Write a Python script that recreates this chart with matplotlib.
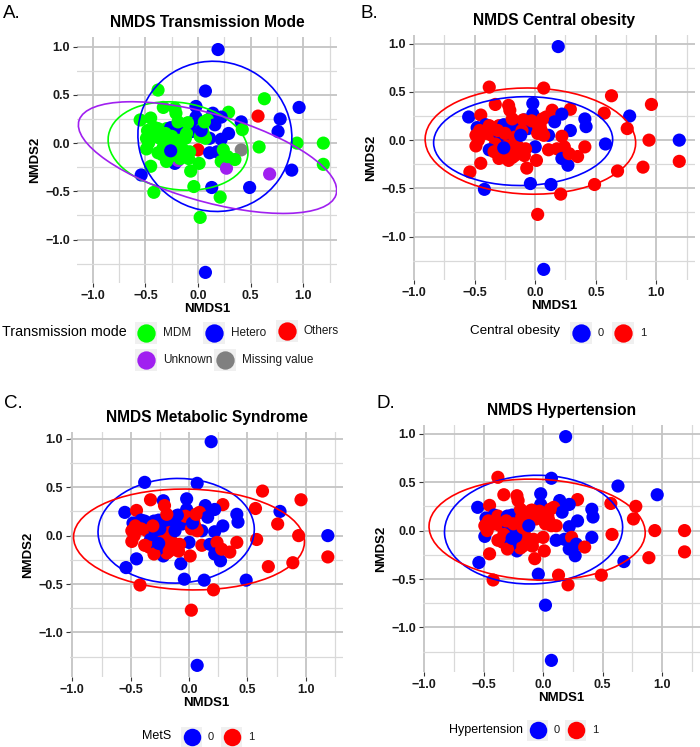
import matplotlib
matplotlib.use("Agg")
import matplotlib.pyplot as plt
from matplotlib.patches import Ellipse, Rectangle
from matplotlib.ticker import MultipleLocator

plt.rcParams['font.family'] = ['Liberation Sans', 'DejaVu Sans']

# NMDS scores of every sample (same ordination in all four panels)
nmds1 = [0.19, 0.07, 0.02, 0.21, -0.42, -0.54, 0.07, -0.38, 0.63, 0.96,
         0.78, 0.76, 0.57, 0.58, 0.94, 1.19, 1.19, 0.89, 0.68, 0.49,
         0.13, -0.04, 0.41, 0.41, 0.42, 0.29, 0.29, -0.55, -0.45, -0.33,
         -0.22, -0.21, -0.02, -0.02, 0.14, 0.22, 0.09, 0.16, -0.09, -0.06,
         0.22, 0.11, 0.02, 0.00, 0.11, 0.18, 0.24, 0.22, 0.27, 0.28,
         0.35, 0.07, -0.07, 0.01, -0.45, -0.22, -0.19, -0.48, -0.41, -0.49,
         -0.49, -0.38, -0.36, -0.30, -0.26, -0.18, -0.29, -0.24, -0.21, -0.33,
         -0.38, -0.14, -0.34, -0.27, -0.17, -0.09, -0.30, -0.08, -0.14, -0.23,
         -0.11, -0.17, -0.25, -0.41, 0.02, -0.03, 0.04, 0.05, 0.03, -0.46,
         -0.47, -0.10, -0.19, 0.06, -0.12, -0.26, -0.31]
nmds2 = [0.97, -1.34, -0.77, -0.56, -0.51, -0.33, 0.54, 0.55, 0.46, 0.37,
         0.25, 0.12, 0.28, -0.04, 0.00, 0.00, -0.22, -0.28, -0.32, -0.46,
         -0.46, -0.45, -0.07, 0.22, 0.14, 0.32, 0.10, 0.24, 0.26, 0.37,
         0.36, 0.31, 0.38, 0.27, 0.31, 0.27, 0.24, 0.19, 0.21, 0.12,
         0.04, 0.05, 0.17, -0.07, -0.10, -0.09, -0.07, -0.19, -0.26, -0.14,
         -0.17, 0.05, -0.29, -0.21, -0.24, -0.21, -0.18, 0.13, 0.16, 0.05,
         -0.06, 0.15, 0.05, 0.15, 0.16, 0.14, 0.05, 0.00, -0.02, -0.04,
         -0.10, -0.10, -0.12, -0.14, -0.16, -0.16, -0.19, -0.09, -0.07, -0.06,
         0.10, 0.03, 0.07, 0.07, 0.07, 0.20, 0.15, 0.10, 0.13, 0.10,
         0.00, 0.21, 0.22, 0.22, 0.05, -0.08, 0.10]

transmission = ['Hetero', 'Hetero', 'MDM', 'MDM', 'MDM', 'Hetero', 'Hetero', 'MDM', 'MDM', 'Hetero',
                'Hetero', 'Hetero', 'Others', 'MDM', 'MDM', 'MDM', 'MDM', 'Hetero', 'Unknown', 'Hetero',
                'Hetero', 'MDM', 'Missing value', 'Hetero', 'MDM', 'MDM', 'Hetero', 'MDM', 'MDM', 'MDM',
                'MDM', 'MDM', 'Hetero', 'Hetero', 'Hetero', 'Hetero', 'MDM', 'Hetero', 'MDM', 'Hetero',
                'Hetero', 'Hetero', 'Unknown', 'Others', 'Hetero', 'Hetero', 'MDM', 'MDM', 'Unknown', 'MDM',
                'MDM', 'MDM', 'MDM', 'MDM', 'MDM', 'Hetero', 'Unknown', 'MDM', 'MDM', 'MDM',
                'MDM', 'MDM', 'MDM', 'MDM', 'Hetero', 'Hetero', 'MDM', 'MDM', 'MDM', 'MDM',
                'MDM', 'MDM', 'MDM', 'MDM', 'MDM', 'MDM', 'MDM', 'MDM', 'MDM', 'MDM',
                'MDM', 'MDM', 'MDM', 'MDM', 'MDM', 'Hetero', 'MDM', 'MDM', 'Hetero', 'MDM',
                'MDM', 'MDM', 'MDM', 'MDM', 'MDM', 'Hetero', 'MDM']
central_obesity = [0, 0, 1, 1, 0, 1, 1, 1, 1, 1,
                   0, 1, 1, 0, 1, 0, 1, 1, 1, 1,
                   0, 0, 1, 0, 0, 1, 0, 0, 1, 1,
                   1, 1, 0, 0, 1, 0, 1, 0, 0, 0,
                   1, 0, 1, 0, 1, 1, 1, 0, 0, 1,
                   1, 1, 1, 1, 1, 1, 1, 0, 0, 1,
                   1, 1, 1, 1, 0, 0, 0, 0, 0, 1,
                   0, 0, 1, 1, 1, 1, 1, 1, 1, 1,
                   1, 1, 1, 1, 1, 1, 1, 1, 1, 1,
                   1, 1, 1, 1, 0, 0, 1]
mets = [0, 0, 1, 1, 1, 0, 0, 0, 1, 1,
        0, 1, 1, 1, 1, 0, 1, 1, 1, 0,
        0, 0, 1, 0, 0, 1, 0, 0, 1, 1,
        0, 1, 0, 0, 0, 0, 1, 0, 0, 0,
        0, 0, 1, 0, 1, 0, 1, 0, 0, 1,
        1, 1, 0, 1, 0, 0, 1, 0, 0, 1,
        1, 0, 1, 0, 0, 0, 0, 0, 0, 0,
        1, 0, 1, 0, 1, 1, 1, 1, 1, 1,
        0, 1, 0, 1, 1, 1, 1, 1, 0, 1,
        1, 0, 1, 1, 0, 0, 1]
hypertension = [0, 0, 0, 1, 1, 0, 0, 1, 0, 0,
                1, 1, 1, 1, 1, 1, 1, 1, 0, 1,
                1, 0, 0, 0, 0, 1, 0, 0, 1, 1,
                1, 1, 0, 0, 0, 0, 1, 0, 1, 1,
                0, 1, 1, 1, 0, 0, 1, 0, 0, 0,
                1, 1, 1, 1, 1, 0, 1, 0, 0, 1,
                0, 1, 1, 0, 0, 1, 0, 0, 0, 1,
                1, 0, 1, 0, 1, 1, 1, 1, 1, 0,
                1, 1, 1, 1, 1, 1, 1, 1, 1, 1,
                1, 1, 1, 1, 0, 0, 1]

# 95% ellipses per group: centre, semi-axes, rotation
ell_a_group = ['MDM', 'Hetero', 'Unknown']
ell_a_cx = [-0.19, 0.16, 0.09]
ell_a_cy = [-0.03, 0.07, -0.15]
ell_a_rx = [0.67, 0.73, 1.28]
ell_a_ry = [0.45, 0.78, 0.45]
ell_a_ang = [-10, 10, -17.7]

ell_b_cx = [-0.10, -0.04]
ell_b_cy = [-0.01, -0.01]
ell_b_rx = [0.74, 0.87]
ell_b_ry = [0.46, 0.55]
ell_b_ang = [2, -2]

ell_c_cx = [-0.11, 0.00]
ell_c_cy = [0.05, -0.04]
ell_c_rx = [0.67, 0.99]
ell_c_ry = [0.54, 0.52]
ell_c_ang = [3, -2]

ell_d_cx = [-0.08, -0.05]
ell_d_cy = [0.01, 0.01]
ell_d_rx = [0.75, 0.91]
ell_d_ry = [0.56, 0.52]
ell_d_ang = [4, -3]

trans_levels = ['MDM', 'Hetero', 'Others', 'Unknown', 'Missing value']
trans_colors = {'MDM': '#00FF00', 'Hetero': '#0000FF', 'Others': '#FF0000',
                'Unknown': '#A020F0', 'Missing value': '#808080'}
bin_colors = {0: '#0000FF', 1: '#FF0000'}
tick_vals = [-1.0, -0.5, 0.0, 0.5, 1.0]
tick_labels = ['\u22121.0', '\u22120.5', '0.0', '0.5', '1.0']

fig = plt.figure(figsize=(7, 7.47), dpi=100)
W, H = 700, 747


def make_ax(l, r, t, b, xlim, ylim):
    ax = fig.add_axes([l / W, 1 - b / H, (r - l) / W, (b - t) / H])
    ax.set_xlim(xlim)
    ax.set_ylim(ylim)
    for s in ax.spines.values():
        s.set_visible(False)
    ax.set_xticks(tick_vals)
    ax.set_xticklabels(tick_labels)
    ax.set_yticks(tick_vals)
    ax.set_yticklabels(tick_labels)
    ax.xaxis.set_minor_locator(MultipleLocator(0.25))
    ax.yaxis.set_minor_locator(MultipleLocator(0.25))
    ax.tick_params(which='major', length=3, width=0.8, color='#333333',
                   labelsize=9, pad=2, labelcolor='#1a1a1a')
    ax.tick_params(which='minor', length=0)
    for lab in ax.get_xticklabels() + ax.get_yticklabels():
        lab.set_fontweight('bold')
    ax.grid(which='major', color='#c4c4c4', lw=1.3)
    ax.grid(which='minor', color='#d9d9d9', lw=0.9)
    ax.set_axisbelow(True)
    ax.set_xlabel('NMDS1', fontsize=9.5, fontweight='bold', labelpad=1)
    ax.set_ylabel('NMDS2', fontsize=9.5, fontweight='bold', labelpad=3)
    return ax


def binary_panel(ax, groups, cx, cy, rx, ry, ang):
    cols = [bin_colors[g] for g in groups]
    ax.scatter(nmds1, nmds2, c=cols, s=90, linewidths=0, zorder=3)
    for i, g in enumerate([0, 1]):
        ax.add_patch(Ellipse((cx[i], cy[i]), 2 * rx[i], 2 * ry[i], angle=ang[i],
                             fill=False, ec=bin_colors[g], lw=1.2, zorder=4))


# A. transmission mode
axA = make_ax(77, 337, 37, 283, (-1.15, 1.32), (-1.45, 1.10))
axA.scatter(nmds1, nmds2, c=[trans_colors[t] for t in transmission], s=90,
            linewidths=0, zorder=3)
for i, g in enumerate(ell_a_group):
    axA.add_patch(Ellipse((ell_a_cx[i], ell_a_cy[i]), 2 * ell_a_rx[i], 2 * ell_a_ry[i],
                          angle=ell_a_ang[i], fill=False, ec=trans_colors[g], lw=1.2, zorder=4))
axA.set_title('NMDS Transmission Mode', fontsize=11.2, fontweight='bold', pad=7)

# B. central obesity
axB = make_ax(413, 695, 35, 280, (-1.01, 1.32), (-1.45, 1.09))
binary_panel(axB, central_obesity, ell_b_cx, ell_b_cy, ell_b_rx, ell_b_ry, ell_b_ang)
axB.set_title('NMDS Central obesity', fontsize=11.2, fontweight='bold', pad=7)

# C. metabolic syndrome
axC = make_ax(70, 343, 432, 677, (-1.02, 1.32), (-1.46, 1.07))
binary_panel(axC, mets, ell_c_cx, ell_c_cy, ell_c_rx, ell_c_ry, ell_c_ang)
axC.set_title('NMDS Metabolic Syndrome', fontsize=11.2, fontweight='bold', pad=7)

# D. hypertension
axD = make_ax(423, 700, 425, 672, (-1.01, 1.32), (-1.46, 1.09))
binary_panel(axD, hypertension, ell_d_cx, ell_d_cy, ell_d_rx, ell_d_ry, ell_d_ang)
axD.set_title('NMDS Hypertension', fontsize=11.2, fontweight='bold', pad=7)

# overlay in pixel coordinates for panel letters and legends
ov = fig.add_axes([0, 0, 1, 1], zorder=10)
ov.set_xlim(0, W)
ov.set_ylim(H, 0)
ov.axis('off')

for letter, x, y in [('A.', 3, 14), ('B.', 361, 13), ('C.', 4, 404), ('D.', 376, 404)]:
    ov.text(x, y, letter, fontsize=13.5, ha='left', va='center')


def key(x, y, color, label, size=22, fs=8.5):
    ov.add_patch(Rectangle((x, y - size / 2), size, size, color='#f0f0f0', lw=0))
    ov.scatter([x + size / 2], [y], s=(size * 0.6) ** 2, color=color, lw=0)
    ov.text(x + size + 6, y, label, fontsize=fs, ha='left', va='center', color='#1a1a1a')


ov.text(2, 332, 'Transmission mode', fontsize=10.3, ha='left', va='center')
key(135, 333, trans_colors['MDM'], 'MDM')
key(203, 333, trans_colors['Hetero'], 'Hetero')
key(276, 331, trans_colors['Others'], 'Others')
key(135, 360, trans_colors['Unknown'], 'Unknown')
key(214, 360, trans_colors['Missing value'], 'Missing value')

ov.text(470, 331, 'Central obesity', fontsize=9.7, ha='left', va='center')
key(570, 333, bin_colors[0], '0', fs=8)
key(612, 333, bin_colors[1], '1', fs=8)

ov.text(142, 736, 'MetS', fontsize=9, ha='left', va='center')
key(181, 737, bin_colors[0], '0', size=21, fs=8)
key(221, 737, bin_colors[1], '1', size=21, fs=8)

ov.text(449, 730, 'Hypertension', fontsize=9, ha='left', va='center')
key(527, 730, bin_colors[0], '0', size=21, fs=8)
key(565, 730, bin_colors[1], '1', size=21, fs=8)

fig.savefig('out.png', dpi=100)
